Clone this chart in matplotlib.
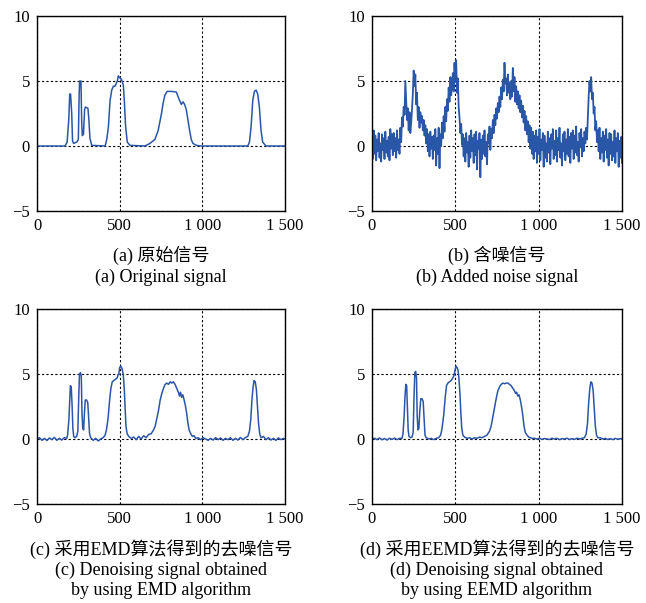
import numpy as np
import matplotlib
matplotlib.use('Agg')
import matplotlib.pyplot as plt
from matplotlib.ticker import FuncFormatter

plt.rcParams['font.family'] = ['Liberation Serif', 'Noto Sans CJK SC']
plt.rcParams['axes.unicode_minus'] = True

# (a) original signal, breakpoints
x_orig = [0, 170, 182, 192, 198, 203, 210, 215, 221, 240, 250, 255, 258, 266, 270, 274, 281, 288,
          293, 308, 314, 320, 331, 412, 422, 432, 442, 452, 462, 472, 486, 492, 497, 512, 522,
          528, 536, 546, 562, 653, 683, 713, 733, 753, 763, 773, 787, 813, 843, 859, 873, 883,
          893, 903, 913, 923, 933, 943, 964, 994, 1275, 1285, 1295, 1305, 1315, 1325, 1335,
          1345, 1355, 1365, 1385, 1500]
y_orig = [0, 0, 0.3, 2.0, 4.0, 4.0, 2.5, 0.4, 0.2, 0.3, 0.5, 4.0, 5.0, 5.0, 2.0, 0.8, 0.9, 2.8,
          3.0, 2.9, 2.0, 0.6, 0.05, 0, 0.5, 1.5, 3.5, 4.3, 4.6, 4.6, 5.0, 5.4, 5.3, 5.1, 4.7,
          3.5, 1.5, 0.3, 0.05, 0, 0.2, 0.5, 1.2, 2.5, 3.3, 3.9, 4.2, 4.2, 4.15, 3.6, 3.2, 3.4,
          3.2, 2.8, 2.0, 1.2, 0.5, 0.2, 0.05, 0, 0, 0.3, 1.5, 3.5, 4.2, 4.3, 4.0,
          3.0, 1.2, 0.3, 0, 0]

# (b) noisy signal, one value every 5 samples
x_noisy = list(range(0, 1501, 5))
y_noisy = [
    0.3, -1.0, 1.2, -0.6, 0.8, -1.1, 0.5, -0.4, 1.0, -0.9, 0.2, -1.2, 0.9, -0.3, 0.6, -1.0, 1.1, -0.5, 0.4, -0.8,
    0.7, -1.1, 1.3, -0.2, 0.9, -0.7, 1.0, -0.4, 0.6, -0.9, 1.2, -0.3, 0.5, -0.6, 1.4, 0.3, 2.2, 1.5, 3.0, 2.4,
    5.0, 3.5, 2.0, 2.9, 1.2, 2.6, 1.0, 1.8, 2.8, 4.0, 5.8, 4.6, 5.5, 3.2, 4.1, 2.0, 3.0, 1.4, 2.6, 1.8,
    2.3, 1.2, 2.0, 0.8, 1.6, 0.2, 1.3, -0.4, 0.9, -0.8, 1.1, -0.2, 0.7, -1.0, 0.8, -0.3, 1.3, -1.5, 0.6, -0.6,
    1.4, -1.7, 0.9, 0.0, 1.8, 0.6, 2.3, 1.1, 3.0, 1.9, 3.6, 2.7, 4.5, 3.4, 5.3, 3.9, 4.8, 5.6, 4.2, 6.4,
    5.0, 6.6, 4.1, 5.2, 3.0, 2.2, 1.0, 1.7, 0.1, 0.9, -0.8, 0.6, -1.2, 1.0, -0.5, 0.3, -1.6, 0.8, -0.9, 1.2,
    -0.4, 0.6, -1.3, 0.9, -0.7, 1.1, -1.8, 0.4, -0.2, 1.0, -2.4, 0.5, -1.0, 0.8, -0.6, 1.2, -0.8, 0.3, -1.4, 0.9,
    0.2, 1.5, -0.3, 1.3, 0.6, 2.0, 1.0, 2.4, 1.6, 2.9, 2.1, 3.3, 2.6, 3.8, 3.0, 4.5, 3.6, 5.1, 4.2, 6.4,
    4.8, 5.2, 3.9, 5.5, 4.1, 4.9, 3.6, 5.0, 3.8, 6.0, 4.2, 5.3, 3.4, 4.6, 3.2, 4.2, 2.9, 3.9, 2.6, 3.5,
    2.2, 3.1, 1.8, 2.7, 1.2, 2.3, 0.9, 1.9, 0.3, 1.6, -0.2, 1.4, -0.6, 1.1, -1.0, 0.8, -0.4, 1.2, -1.3, 0.7,
    -0.6, 1.3, -1.1, 0.5, -0.3, 1.0, -1.6, 0.8, -0.9, 0.2, -1.2, 1.1, -0.5, 0.6, -1.4, 0.9, -0.2, 1.3, -1.0, 0.4,
    -0.7, 1.2, -1.2, 0.6, -0.3, 1.4, -0.9, 0.2, -1.5, 0.9, -0.4, 1.1, -1.1, 0.5, -0.6, 1.3, -0.8, 0.7, -1.3, 1.0,
    -0.2, 1.2, -1.0, 0.8, -0.5, 1.5, -0.7, 0.3, -1.2, 1.0, -0.1, 1.3, -0.8, 0.6, -0.4, 1.1, 0.2, 1.4, 0.5, 2.2,
    3.8, 5.0, 4.2, 5.3, 3.6, 4.1, 2.5, 3.0, 1.2, 1.9, 0.3, 1.2, -0.4, 1.4, -1.0, 0.6, -0.5, 1.1, -1.2, 0.8,
    -0.3, 1.3, -0.9, 0.5, -1.5, 1.0, -0.6, 0.9, -1.1, 0.3, -0.8, 1.2, -1.3, 0.6, -0.4, 1.0, -1.6, 0.4, -0.9, 0.7,
    -1.3,
]

# (c) EMD denoised
x_emd = [0, 15, 30, 45, 60, 75, 90, 105, 120, 135, 150, 165, 180, 185, 193, 198, 202, 207, 212, 217,
         222, 230, 240, 247, 252, 257, 263, 268, 272, 277, 282, 287, 292, 300, 307, 313, 318, 325,
         340, 355, 370, 385, 400, 412, 420, 430, 440, 447, 455, 465, 475, 485, 490, 495, 500, 507,
         515, 522, 528, 533, 538, 545, 555, 570, 585, 600, 615, 630, 645, 660, 675, 690, 705, 715,
         725, 735, 745, 755, 765, 775, 785, 795, 805, 815, 825, 835, 845, 855, 862, 868, 875, 882,
         890, 897, 905, 912, 920, 930, 940, 950, 960, 975, 990, 1005, 1020, 1035, 1050, 1065, 1080,
         1095, 1110, 1125, 1140, 1155, 1170, 1185, 1200, 1215, 1230, 1245, 1260, 1275, 1285, 1293,
         1300, 1307, 1313, 1320, 1327, 1333, 1340, 1347, 1355, 1370, 1385, 1400, 1415, 1430, 1445,
         1460, 1475, 1490, 1500]
y_emd = [-0.05, 0.1, -0.1, 0.05, -0.12, 0.08, -0.05, 0.12, -0.1, 0.05, -0.08, 0.1, 0.05, 0.3, 1.5,
         3.0, 4.1, 4.0, 2.7, 0.8, 0.2, 0.1, 0.2, 0.6, 3.0, 5.0, 5.1, 4.8, 2.0, 0.8, 0.7, 2.0, 3.0,
         3.0, 2.8, 1.5, 0.4, 0.1, -0.1, 0.05, -0.15, 0.0, 0.1, 0.3, 0.7, 1.6, 3.1, 3.9, 4.4, 4.5,
         4.6, 4.7, 4.9, 5.0, 5.5, 5.6, 5.4, 4.9, 3.8, 2.3, 1.0, 0.4, 0.2, 0.05, 0.15, -0.05, 0.2,
         0.0, 0.25, 0.1, 0.35, 0.4, 0.7, 1.0, 1.6, 2.2, 3.0, 3.5, 3.9, 4.2, 4.3, 4.2, 4.4, 4.3,
         4.4, 4.2, 3.9, 3.6, 3.3, 3.6, 3.2, 3.4, 3.0, 2.6, 2.0, 1.3, 0.7, 0.4, 0.2, 0.25, 0.05,
         0.1, -0.05, 0.1, 0.0, -0.1, 0.05, -0.08, 0.1, -0.05, 0.08, -0.1, 0.05, -0.05, 0.1, -0.1,
         0.05, -0.08, 0.12, -0.05, 0.1, 0.2, 0.6, 1.5, 3.0, 4.0, 4.5, 4.4, 3.8, 2.6, 1.2, 0.4,
         0.1, 0.2, -0.05, 0.1, -0.08, 0.05, -0.1, 0.08, -0.05, 0.05, 0.0]

# (d) EEMD denoised
x_eemd = [0, 15, 30, 45, 60, 75, 90, 105, 120, 135, 150, 165, 180, 186, 193, 198, 203, 208, 212, 217,
          222, 230, 240, 247, 252, 257, 262, 267, 271, 276, 281, 287, 293, 300, 307, 313, 318, 325,
          340, 355, 370, 385, 400, 412, 420, 430, 440, 447, 455, 465, 475, 485, 492, 498, 504, 510,
          516, 522, 528, 533, 538, 545, 555, 570, 585, 600, 615, 630, 645, 660, 675, 690, 705, 715,
          725, 735, 745, 755, 765, 775, 785, 795, 805, 815, 825, 835, 845, 855, 862, 868, 875, 882,
          890, 897, 905, 912, 920, 930, 940, 950, 960, 975, 990, 1005, 1020, 1035, 1050, 1065, 1080,
          1095, 1110, 1125, 1140, 1155, 1170, 1185, 1200, 1215, 1230, 1245, 1260, 1275, 1285, 1293,
          1300, 1307, 1313, 1320, 1327, 1333, 1340, 1347, 1355, 1370, 1385, 1400, 1415, 1430, 1445,
          1460, 1475, 1490, 1500]
y_eemd = [0.0, 0.06, -0.05, 0.08, -0.06, 0.04, -0.08, 0.06, -0.03, 0.07, -0.05, 0.05, 0.05, 0.4, 1.8,
          3.3, 4.2, 4.1, 2.6, 0.7, 0.2, 0.1, 0.15, 0.5, 3.2, 5.1, 5.2, 4.7, 1.8, 0.7, 0.8, 2.2, 3.1,
          3.1, 2.9, 1.4, 0.3, 0.1, 0.0, 0.05, -0.05, 0.05, 0.1, 0.3, 0.8, 1.8, 3.3, 4.1, 4.3, 4.4,
          4.5, 4.7, 4.9, 5.3, 5.6, 5.5, 5.3, 4.6, 3.4, 2.0, 0.9, 0.3, 0.15, 0.05, 0.1, 0.0, 0.1,
          0.05, 0.15, 0.1, 0.2, 0.3, 0.6, 1.0, 1.7, 2.4, 3.1, 3.7, 4.0, 4.2, 4.3, 4.25, 4.3, 4.3,
          4.2, 4.1, 3.9, 3.7, 3.5, 3.6, 3.3, 3.4, 3.0, 2.5, 1.8, 1.0, 0.5, 0.3, 0.15, 0.1, 0.05,
          0.05, 0.0, 0.05, -0.03, 0.04, 0.0, -0.04, 0.06, 0.0, 0.05, -0.05, 0.03, 0.0, 0.06, -0.04,
          0.03, -0.03, 0.06, 0.0, 0.05, 0.1, 0.4, 1.2, 2.8, 3.9, 4.4, 4.3, 3.7, 2.4, 1.0, 0.3,
          0.1, 0.1, 0.0, 0.05, -0.04, 0.03, -0.05, 0.05, -0.02, 0.03, 0.0]

captions = [
    '(a) 原始信号\n(a) Original signal',
    '(b) 含噪信号\n(b) Added noise signal',
    '(c) 采用EMD算法得到的去噪信号\n(c) Denoising signal obtained\nby using EMD algorithm',
    '(d) 采用EEMD算法得到的去噪信号\n(d) Denoising signal obtained\nby using EEMD algorithm',
]
series = [(x_orig, y_orig), (x_noisy, y_noisy), (x_emd, y_emd), (x_eemd, y_eemd)]

line_color = '#2a56a8'
W, H = 646, 603
fig = plt.figure(figsize=(W / 100, H / 100), dpi=100)

# axes boxes in pixels: left, top, right, bottom
boxes = [(37, 16, 285, 211), (372, 16, 622, 211), (37, 309, 285, 504), (372, 309, 622, 504)]


def fmt_x(v, pos):
    v = int(round(v))
    if v >= 1000:
        return '%d %03d' % (v // 1000, v % 1000)
    return str(v)


for i, ((xs, ys), cap, (l, t, r, b)) in enumerate(zip(series, captions, boxes)):
    ax = fig.add_axes([l / W, 1 - b / H, (r - l) / W, (b - t) / H])
    ax.plot(xs, ys, color=line_color, lw=1.3 if i == 1 else 1.1)
    ax.set_xlim(0, 1500)
    ax.set_ylim(-5, 10)
    ax.set_xticks([0, 500, 1000, 1500])
    ax.set_yticks([-5, 0, 5, 10])
    ax.xaxis.set_major_formatter(FuncFormatter(fmt_x))
    ax.grid(True, color='black', linestyle=(0, (2, 2)), linewidth=0.8)
    ax.tick_params(direction='in', length=0, labelsize=12, pad=5)
    for s in ax.spines.values():
        s.set_linewidth(1.0)
    cx = (l + r) / 2 / W
    fig.text(cx, 1 - (b + 35) / H, cap, ha='center', va='top', fontsize=13, linespacing=1.24)

fig.savefig('out.png', dpi=100)
